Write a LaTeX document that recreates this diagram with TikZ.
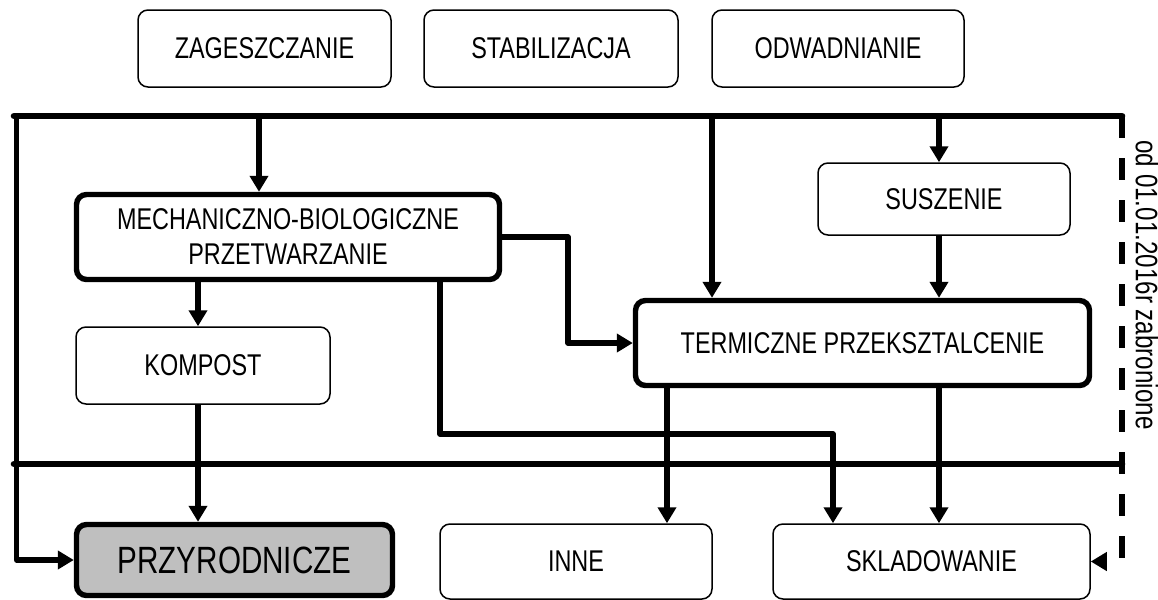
\documentclass[tikz,border=0pt]{standalone}
\usepackage{fontspec}
\setmainfont[FakeStretch=0.78]{Liberation Sans}
\usetikzlibrary{arrows.meta}
\definecolor{fillg}{RGB}{191,191,191}
\begin{document}
\begin{tikzpicture}[x=0.5pt,y=-0.5pt,
  box/.style={draw,rounded corners=5pt,line width=0.75pt,inner sep=0pt,
    font=\fontsize{15}{17.5}\selectfont,align=center},
  thickbox/.style={box,line width=2.7pt},
  bus/.style={line width=3.3pt,line cap=round},
  arr/.style={line width=2.6pt,line join=round,-{Triangle[width=9pt,length=8pt]}},
  dashedarr/.style={arr,dash pattern=on 11pt off 10pt}
]
\useasboundingbox (0,0) rectangle (1158,600);

% top row
\node[box,minimum width=126.5pt,minimum height=38.5pt] (zag) at (264.5,48.5) {ZAGESZCZANIE};
\node[box,minimum width=127pt,minimum height=38.5pt] (stab) at (551,48.5) {STABILIZACJA};
\node[box,minimum width=126pt,minimum height=38.5pt] (odw) at (838,48.5) {ODWADNIANIE};

% middle
\node[thickbox,minimum width=211.5pt,minimum height=42.5pt] (mbp) at (288,237) {MECHANICZNO-BIOLOGICZNE\\PRZETWARZANIE};
\node[box,minimum width=127pt,minimum height=38.5pt] (komp) at (203,365.5) {KOMPOST};
\node[box,minimum width=126pt,minimum height=36pt] (susz) at (944,199) {SUSZENIE};
\node[thickbox,minimum width=227pt,minimum height=42.5pt] (tp) at (862.5,343) {TERMICZNE PRZEKSZTALCENIE};

% bottom
\node[thickbox,fill=fillg,minimum width=158pt,minimum height=35.5pt,font=\fontsize{19}{22}\selectfont] (przy) at (234.5,560) {PRZYRODNICZE};
\node[box,minimum width=136pt,minimum height=37.5pt] (inne) at (576,561.5) {INNE};
\node[box,minimum width=158.5pt,minimum height=37.5pt] (skl) at (931.5,561.5) {SKLADOWANIE};

% note
\node[rotate=-90,inner sep=0pt,font=\fontsize{15.5}{18}\selectfont] (note) at (1147,285) {od 01.01.2016r zabronione};

% buses
\coordinate (bl) at (14,116);
\coordinate (br) at (1122,116);
\coordinate (ml) at (14,464);
\coordinate (mr) at (1122,464);
\draw[bus] (bl) -- (br);
\draw[bus] (ml) -- (mr);

% left line to PRZYRODNICZE
\coordinate (lt) at (16.5,116);
\draw[arr] (lt) |- (przy.west);

% dashed right line to SKLADOWANIE
\draw[dashedarr] (br) |- (skl.east);

% from top bus
\coordinate (a1) at (259,116);
\coordinate (t1) at (712,116);
\coordinate (s1) at (939,116);
\draw[arr] (a1) -- (a1 |- mbp.north);
\draw[arr] (t1) -- (t1 |- tp.north);
\draw[arr] (s1) -- (s1 |- susz.north);
\draw[arr] (s1 |- susz.south) -- (s1 |- tp.north);

% MBP outputs
\coordinate (kx) at (198,0);
\draw[arr] (kx |- mbp.south) -- (kx |- komp.north);
\draw[arr] (kx |- komp.south) -- (kx |- przy.north);
\coordinate (m1) at (568,0);
\draw[arr] (mbp.east) -- (mbp.east -| m1) -- (m1 |- tp.west) -- (tp.west);
\coordinate (p1) at (440,434);
\coordinate (p2) at (833,434);
\draw[arr] (p1 |- mbp.south) -- (p1) -- (p2) -- (p2 |- skl.north);

% TP outputs
\coordinate (i1) at (667,0);
\draw[arr] (i1 |- tp.south) -- (i1 |- inne.north);
\draw[arr] (s1 |- tp.south) -- (s1 |- skl.north);
\end{tikzpicture}
\end{document}
